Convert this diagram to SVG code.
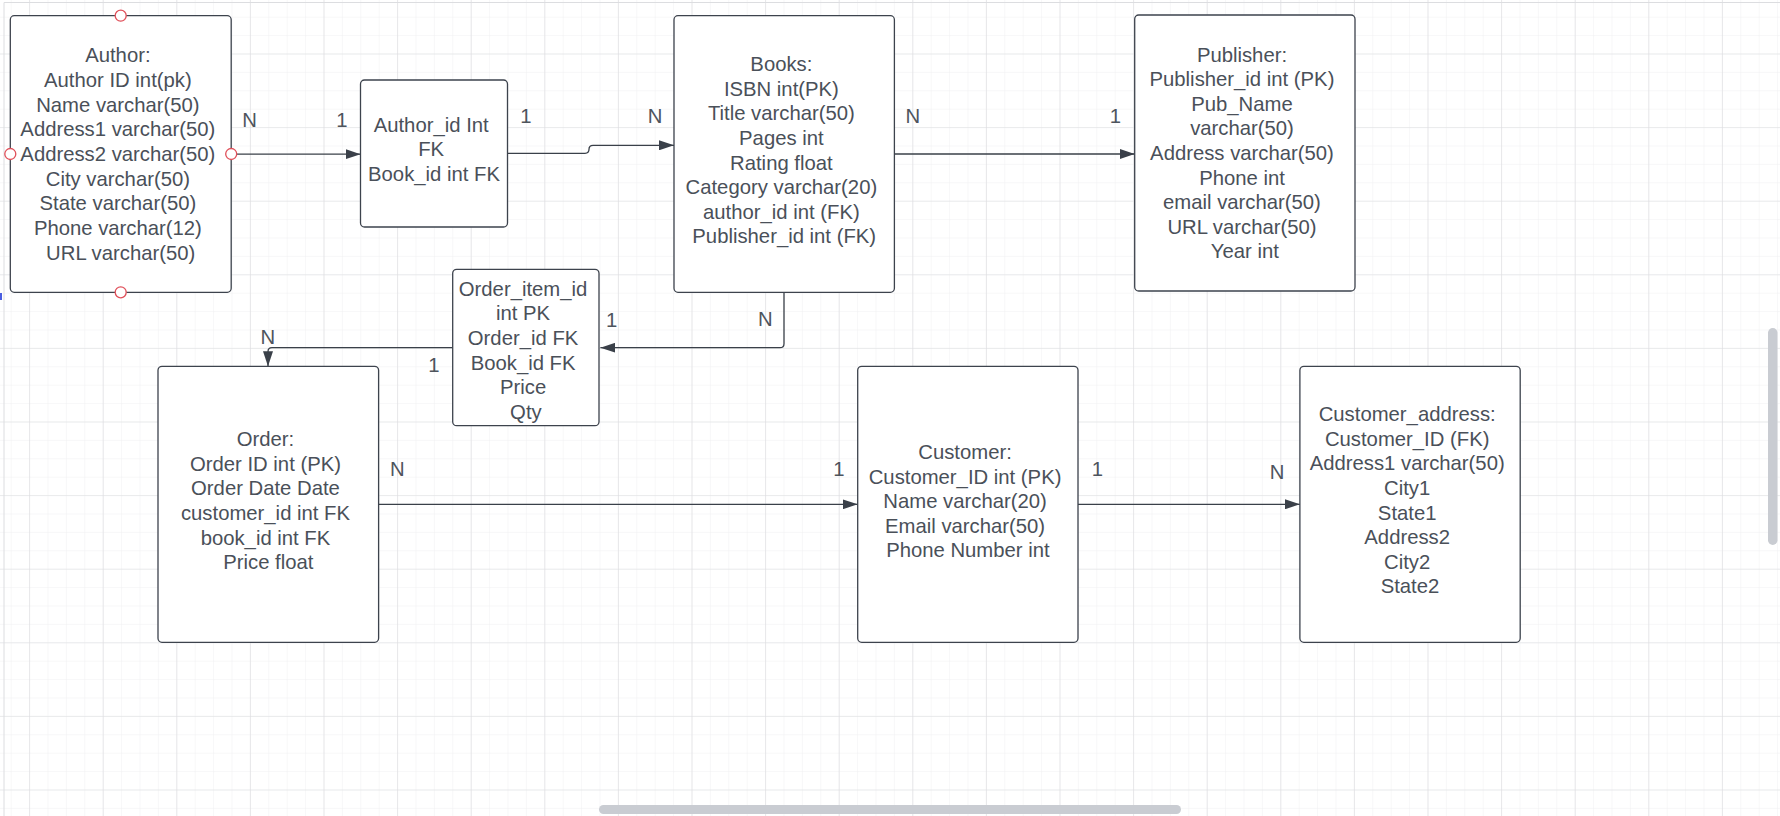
<svg xmlns="http://www.w3.org/2000/svg" width="1780" height="816" viewBox="0 0 1780 816">
<defs>
<pattern id="minor" patternUnits="userSpaceOnUse" x="10.7" y="16.7" width="18.4" height="18.4">
<path d="M0,0 H18.4 M0,0 V18.4" fill="none" stroke="#efeff1" stroke-width="1"/>
</pattern>
<pattern id="major" patternUnits="userSpaceOnUse" x="29.1" y="53.5" width="73.6" height="73.6">
<path d="M0,0 H73.6 M0,0 V73.6" fill="none" stroke="#dcdde0" stroke-width="1.2"/>
</pattern>
<marker id="arr" viewBox="0 0 15 10" refX="15" refY="5" markerWidth="15" markerHeight="10" markerUnits="userSpaceOnUse" orient="auto">
<path d="M0,0 L15,5 L0,10 Z" fill="#3a4049"/>
</marker>
</defs>
<style>
.box{fill:#ffffff;stroke:#3d434d;stroke-width:1.3}
.t{font-family:"Liberation Sans",Arial,sans-serif;font-size:20.3px;fill:#4a5059;text-anchor:middle}
.lbl{font-family:"Liberation Sans",Arial,sans-serif;font-size:20.3px;fill:#4e545d;text-anchor:middle}
.conn{fill:none;stroke:#3a4049;stroke-width:1.3}
.handle{fill:#ffffff;stroke:#e0505a;stroke-width:1.3}
</style>
<rect x="0" y="0" width="1780" height="816" fill="#ffffff"/>
<rect x="0" y="0" width="1780" height="816" fill="url(#minor)"/>
<rect x="0" y="0" width="1780" height="816" fill="url(#major)"/>
<path d="M4,2.5 H1780 M4,2.5 V816" fill="none" stroke="#dcdde0" stroke-width="1"/>
<rect x="0" y="293" width="2" height="7" fill="#4a5ee0"/>

<g id="connectors">
<path class="conn" d="M236.7,154.2 H360.5" marker-end="url(#arr)"/>
<path class="conn" d="M507.5,153.3 H585 Q589,153.3 589,149.3 Q589,145.3 593,145.3 H674" marker-end="url(#arr)"/>
<path class="conn" d="M894.4,154 H1134.7" marker-end="url(#arr)"/>
<path class="conn" d="M784,292.3 V343.7 Q784,347.7 780,347.7 H600.4" marker-end="url(#arr)"/>
<path class="conn" d="M452.7,347.7 H272 Q268,347.7 268,351.7 V366.3" marker-end="url(#arr)"/>
<path class="conn" d="M378.6,504.3 H857.7" marker-end="url(#arr)"/>
<path class="conn" d="M1078,504.3 H1299.9" marker-end="url(#arr)"/>
</g>

<g id="labels">
<text class="lbl" x="249.5" y="126.6">N</text>
<text class="lbl" x="341.8" y="126.6">1</text>
<text class="lbl" x="525.8" y="123.3">1</text>
<text class="lbl" x="655" y="123.3">N</text>
<text class="lbl" x="912.8" y="123.3">N</text>
<text class="lbl" x="1115.3" y="123.3">1</text>
<text class="lbl" x="765.4" y="325.6">N</text>
<text class="lbl" x="611.6" y="327.3">1</text>
<text class="lbl" x="434" y="371.6">1</text>
<text class="lbl" x="267.9" y="344">N</text>
<text class="lbl" x="397.3" y="476.3">N</text>
<text class="lbl" x="839" y="476.3">1</text>
<text class="lbl" x="1097.4" y="476.3">1</text>
<text class="lbl" x="1277" y="479">N</text>
</g>

<g id="author">
<rect class="box" x="10.3" y="15.7" width="220.9" height="276.6" rx="4"/>
<text class="t">
<tspan x="120.7" y="62.3">Author:</tspan>
<tspan x="120.7" y="86.95">Author ID int(pk)</tspan>
<tspan x="120.7" y="111.6">Name varchar(50)</tspan>
<tspan x="120.7" y="136.25">Address1 varchar(50)</tspan>
<tspan x="120.7" y="160.9">Address2 varchar(50)</tspan>
<tspan x="120.7" y="185.55">City varchar(50)</tspan>
<tspan x="120.7" y="210.2">State varchar(50)</tspan>
<tspan x="120.7" y="234.85">Phone varchar(12)</tspan>
<tspan x="120.7" y="259.5">URL varchar(50)</tspan>
</text>
<circle class="handle" cx="120.7" cy="15.7" r="5.5"/>
<circle class="handle" cx="120.7" cy="292.3" r="5.5"/>
<circle class="handle" cx="10.3" cy="154" r="5.5"/>
<circle class="handle" cx="231.2" cy="154" r="5.5"/>
</g>

<g id="author_book">
<rect class="box" x="360.5" y="80" width="147" height="147" rx="4"/>
<text class="t">
<tspan x="434" y="131.6">Author_id Int</tspan>
<tspan x="434" y="156.3">FK</tspan>
<tspan x="434" y="180.6">Book_id int FK</tspan>
</text>
</g>

<g id="books">
<rect class="box" x="674" y="15.7" width="220.4" height="276.6" rx="4"/>
<text class="t">
<tspan x="784.2" y="71.3">Books:</tspan>
<tspan x="784.2" y="95.87">ISBN int(PK)</tspan>
<tspan x="784.2" y="120.44">Title varchar(50)</tspan>
<tspan x="784.2" y="145.01">Pages int</tspan>
<tspan x="784.2" y="169.58">Rating float</tspan>
<tspan x="784.2" y="194.15">Category varchar(20)</tspan>
<tspan x="784.2" y="218.72">author_id int (FK)</tspan>
<tspan x="784.2" y="243.3">Publisher_id int (FK)</tspan>
</text>
</g>

<g id="publisher">
<rect class="box" x="1134.7" y="15" width="220.3" height="276" rx="4"/>
<text class="t">
<tspan x="1244.8" y="61.6">Publisher:</tspan>
<tspan x="1244.8" y="86.2">Publisher_id int (PK)</tspan>
<tspan x="1244.8" y="110.8">Pub_Name</tspan>
<tspan x="1244.8" y="135.4">varchar(50)</tspan>
<tspan x="1244.8" y="160">Address varchar(50)</tspan>
<tspan x="1244.8" y="184.6">Phone int</tspan>
<tspan x="1244.8" y="209.2">email varchar(50)</tspan>
<tspan x="1244.8" y="233.8">URL varchar(50)</tspan>
<tspan x="1244.8" y="258.4">Year int</tspan>
</text>
</g>

<g id="order_item">
<rect class="box" x="452.7" y="269.3" width="146.3" height="156.4" rx="4"/>
<text class="t">
<tspan x="525.9" y="295.6">Order_item_id</tspan>
<tspan x="525.9" y="320.3">int PK</tspan>
<tspan x="525.9" y="345">Order_id FK</tspan>
<tspan x="525.9" y="369.6">Book_id FK</tspan>
<tspan x="525.9" y="394.3">Price</tspan>
<tspan x="525.9" y="419">Qty</tspan>
</text>
</g>

<g id="order">
<rect class="box" x="158" y="366.3" width="220.6" height="276" rx="4"/>
<text class="t">
<tspan x="268.3" y="446.3">Order:</tspan>
<tspan x="268.3" y="470.85">Order ID int (PK)</tspan>
<tspan x="268.3" y="495.4">Order Date Date</tspan>
<tspan x="268.3" y="519.95">customer_id int FK</tspan>
<tspan x="268.3" y="544.5">book_id int FK</tspan>
<tspan x="268.3" y="569">Price float</tspan>
</text>
</g>

<g id="customer">
<rect class="box" x="857.7" y="366.3" width="220.3" height="276" rx="4"/>
<text class="t">
<tspan x="967.9" y="459">Customer:</tspan>
<tspan x="967.9" y="483.5">Customer_ID int (PK)</tspan>
<tspan x="967.9" y="508">Name varchar(20)</tspan>
<tspan x="967.9" y="532.5">Email varchar(50)</tspan>
<tspan x="967.9" y="557">Phone Number int</tspan>
</text>
</g>

<g id="customer_address">
<rect class="box" x="1299.9" y="366.3" width="220.3" height="276" rx="4"/>
<text class="t">
<tspan x="1410" y="421.3">Customer_address:</tspan>
<tspan x="1410" y="445.87">Customer_ID (FK)</tspan>
<tspan x="1410" y="470.44">Address1 varchar(50)</tspan>
<tspan x="1410" y="495.01">City1</tspan>
<tspan x="1410" y="519.58">State1</tspan>
<tspan x="1410" y="544.15">Address2</tspan>
<tspan x="1410" y="568.72">City2</tspan>
<tspan x="1410" y="593.3">State2</tspan>
</text>
</g>

<rect x="599" y="805" width="582" height="9" rx="4.5" fill="#c9ccd2"/>
<rect x="1768" y="328" width="9.5" height="217" rx="4.75" fill="#c9ccd2"/>
</svg>
